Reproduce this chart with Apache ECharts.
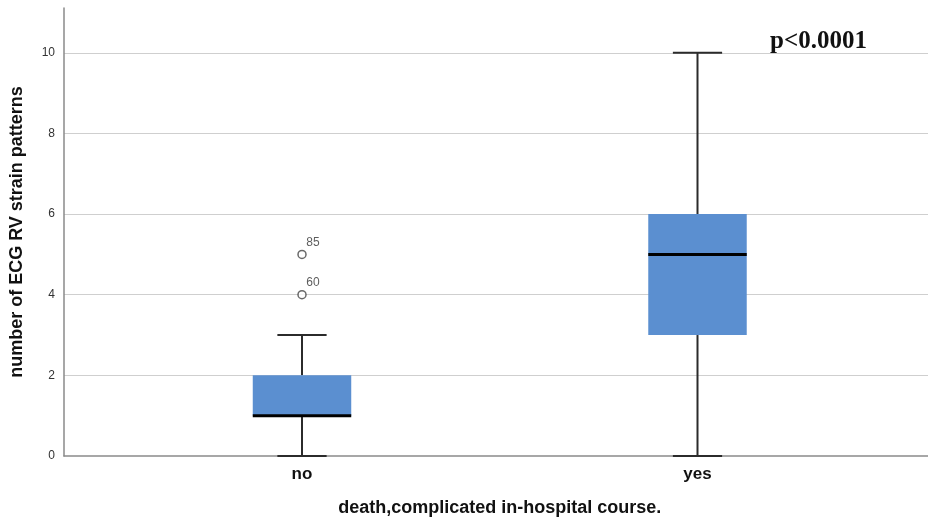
<!DOCTYPE html>
<html>
<head>
<meta charset="utf-8">
<script src="https://cdn.jsdelivr.net/npm/echarts@6/dist/echarts.min.js"></script>
<style>html,body{margin:0;padding:0;background:#fff}#c{width:928px;height:523px}</style>
</head>
<body>
<div id="c"></div>
<script>
// ---- data ----
var categories = ['no', 'yes'];
var whiskerLow = [0, 0];
var q1 = [1, 3];
var medians = [1, 5];
var q3 = [2, 6];
var whiskerHigh = [3, 10];
var outlierCategory = [0, 0];
var outlierValues = [4, 5];
var outlierIds = ['60', '85'];
var yTicks = [0, 2, 4, 6, 8, 10];
var yTitle = 'number of ECG RV strain patterns';
var xTitle = 'death,complicated in-hospital course.';
var pText = 'p<0.0001';

var boxData = categories.map(function (c, i) {
  return [i, whiskerLow[i], q1[i], medians[i], q3[i], whiskerHigh[i]];
});
var outlierData = outlierValues.map(function (v, i) {
  return [outlierCategory[i], v, outlierIds[i]];
});

var Y_MAX = 11.11;
var chart = echarts.init(document.getElementById('c'), null, { renderer: 'canvas' });

function renderBox(params, api) {
  var x = api.value(0);
  var pMin = api.coord([x, api.value(1)]);
  var pQ1 = api.coord([x, api.value(2)]);
  var pMed = api.coord([x, api.value(3)]);
  var pQ3 = api.coord([x, api.value(4)]);
  var pMax = api.coord([x, api.value(5)]);
  var band = api.size([1, 0])[0];
  var bw = band * 0.249;
  var cw = bw * 0.5;
  var cx = pMed[0];
  var wStyle = { stroke: '#2b2b2b', lineWidth: 2 };
  return {
    type: 'group',
    children: [
      { type: 'line', shape: { x1: cx, y1: pMax[1], x2: cx, y2: pQ3[1] }, style: wStyle },
      { type: 'line', shape: { x1: cx, y1: pQ1[1], x2: cx, y2: pMin[1] }, style: wStyle },
      { type: 'line', shape: { x1: cx - cw / 2, y1: pMax[1], x2: cx + cw / 2, y2: pMax[1] }, style: wStyle },
      { type: 'line', shape: { x1: cx - cw / 2, y1: pMin[1], x2: cx + cw / 2, y2: pMin[1] }, style: wStyle },
      { type: 'rect', shape: { x: cx - bw / 2, y: pQ3[1], width: bw, height: pQ1[1] - pQ3[1] },
        style: { fill: '#5b8fd0', stroke: null } },
      { type: 'line', shape: { x1: cx - bw / 2, y1: pMed[1], x2: cx + bw / 2, y2: pMed[1] },
        style: { stroke: '#000', lineWidth: 3 } }
    ]
  };
}

var option = {
  backgroundColor: '#fff',
  animation: false,
  grid: [
    { left: 61, right: 0, top: 8, bottom: 67 },
    { left: 104.25, right: 32.75, top: 8, bottom: 67 }
  ],
  xAxis: [
    { gridIndex: 0, type: 'value', min: 0, max: 1,
      axisLine: { show: true, lineStyle: { color: '#8a8a8a', width: 1.5 } },
      axisTick: { show: false }, axisLabel: { show: false }, splitLine: { show: false } },
    { gridIndex: 1, type: 'category', data: categories,
      axisLine: { show: false }, axisTick: { show: false },
      axisLabel: { margin: 10, color: '#111', fontSize: 17, fontWeight: 'bold', fontFamily: 'Liberation Sans, Arial, sans-serif' },
      name: xTitle, nameLocation: 'middle', nameGap: 43,
      nameTextStyle: { color: '#111', fontSize: 18, fontWeight: 'bold', fontFamily: 'Liberation Sans, Arial, sans-serif' } }
  ],
  yAxis: [
    { gridIndex: 0, type: 'value', min: 0, max: Y_MAX, interval: 2,
      axisLine: { show: true, lineStyle: { color: '#8a8a8a', width: 1.5 } },
      axisTick: { show: false },
      axisLabel: { margin: 9, color: '#333', fontSize: 12, fontFamily: 'Liberation Sans, Arial, sans-serif',
        showMaxLabel: false,
        formatter: function (v) { return yTicks.indexOf(v) >= 0 ? String(v) : ''; } },
      splitLine: { show: true, showMinLine: false, showMaxLine: false, lineStyle: { color: '#cfcfcf', width: 1.2 } },
      name: yTitle, nameLocation: 'middle', nameGap: 38,
      nameTextStyle: { color: '#111', fontSize: 18, fontWeight: 'bold', fontFamily: 'Liberation Sans, Arial, sans-serif' } },
    { gridIndex: 1, type: 'value', min: 0, max: Y_MAX, show: false, splitLine: { show: false } }
  ],
  graphic: [
    { type: 'text', left: 770, top: 29,
      style: { text: pText, fill: '#111', font: 'bold 25px "Liberation Serif", "Times New Roman", serif' } }
  ],
  series: [
    { type: 'custom', xAxisIndex: 1, yAxisIndex: 1, renderItem: renderBox,
      encode: { x: 0, y: [1, 2, 3, 4, 5] }, data: boxData, z: 3 },
    { type: 'scatter', xAxisIndex: 1, yAxisIndex: 1, data: outlierData,
      symbol: 'circle', symbolSize: 8, z: 4,
      itemStyle: { color: '#fff', borderColor: '#444', borderWidth: 1.5 },
      label: { show: true, position: [9, -13], color: '#333', fontSize: 12,
        fontFamily: 'Liberation Sans, Arial, sans-serif',
        formatter: function (p) { return p.value[2]; } } }
  ]
};
chart.setOption(option);
</script>
</body>
</html>
